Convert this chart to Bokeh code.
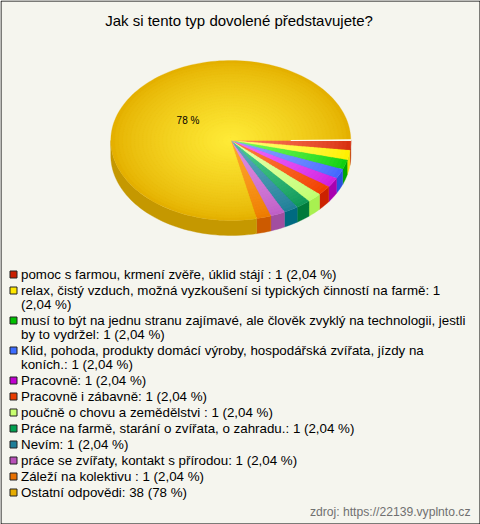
from bokeh.plotting import figure
from bokeh.models import Range1d
from bokeh.core.properties import value
from bokeh.embed import file_html
from bokeh.resources import INLINE
import math

title = "Jak si tento typ dovolené představujete?"
labels = [
    ["pomoc s farmou, krmení zvěře, úklid stájí : 1 (2,04 %)"],
    ["relax, čistý vzduch, možná vyzkoušení si typických činností na farmě: 1", "(2,04 %)"],
    ["musí to být na jednu stranu zajímavé, ale člověk zvyklý na technologii, jestli", "by to vydržel: 1 (2,04 %)"],
    ["Klid, pohoda, produkty domácí výroby, hospodářská zvířata, jízdy na", "koních.: 1 (2,04 %)"],
    ["Pracovně: 1 (2,04 %)"],
    ["Pracovně i zábavně: 1 (2,04 %)"],
    ["poučně o chovu a zemědělstvi : 1 (2,04 %)"],
    ["Práce na farmě, starání o zvířata, o zahradu.: 1 (2,04 %)"],
    ["Nevím: 1 (2,04 %)"],
    ["práce se zvířaty, kontakt s přírodou: 1 (2,04 %)"],
    ["Záleží na kolektivu : 1 (2,04 %)"],
    ["Ostatní odpovědi: 38 (78 %)"],
]
values = [1, 1, 1, 1, 1, 1, 1, 1, 1, 1, 1, 38]
swatch = ["#C81E00", "#FFE800", "#00C000", "#3C6CFF", "#C000D0", "#E83C00",
          "#C8FF70", "#00A050", "#1E7E98", "#B850B8", "#E87000", "#E6AC00"]
wall = ["#BE1E00", "#F0E000", "#00A800", "#2A50E0", "#A800B0", "#CC2200",
        "#A8F050", "#007A3A", "#006A80", "#A24EA0", "#CC5A00", "#C59800"]
inner = ["#FF8060", "#FFFF80", "#80FF60", "#90A8FF", "#F070FF", "#FF8040",
         "#E8FFB0", "#50D090", "#60A8C0", "#E090E0", "#FFA830", "#FFEC38"]
rim = ["#D83010", "#FFF000", "#10D010", "#4468FF", "#D020E0", "#F04000",
       "#C0FF70", "#109858", "#208098", "#C060C8", "#EE7C00", "#E4B000"]
source = "zdroj: https://22139.vyplnto.cz"
pct_label = "78 %"

BG = "#F5F5EE"
CX, CY, RX, RY, DEPTH = 230.3, 140, 120, 80, 15
SMALL_SWEEP = 7.05


def hex2(c):
    return tuple(int(c[i:i + 2], 16) for i in (1, 3, 5))


def mix(a, b, t):
    A, B = hex2(a), hex2(b)
    return "#%02X%02X%02X" % tuple(round(A[i] + (B[i] - A[i]) * t) for i in range(3))


# angular spans
spans, start = [], 0.0
for v in values[:-1]:
    spans.append((start, start + SMALL_SWEEP * v))
    start += SMALL_SWEEP * v
spans.append((start, 360.0))


def arc(a0, a1, r=1.0, dy=0.0):
    n = max(2, int((a1 - a0) / 2) + 2)
    pts = [a0 + (a1 - a0) * i / (n - 1) for i in range(n)]
    return ([CX + RX * r * math.cos(math.radians(a)) for a in pts],
            [CY + dy + RY * r * math.sin(math.radians(a)) for a in pts])


p = figure(width=480, height=524, output_backend="svg", toolbar_location=None,
           x_range=Range1d(0, 480), y_range=Range1d(524, 0), x_axis_type=None, y_axis_type=None,
           min_border=0, background_fill_color=BG, border_fill_color=BG,
           outline_line_color=None)
p.grid.visible = False

# side wall
for (a0, a1), c in zip(spans, wall):
    a1v = min(a1, 180.0)
    if a0 >= 180:
        continue
    x1, y1 = arc(a0, a1v)
    x2, y2 = arc(a0, a1v, dy=DEPTH)
    p.patch(x1 + x2[::-1], y1 + y2[::-1], fill_color=c, line_color=c, line_width=0.4)

# top face: radial shading built from nested sectors
RINGS = 30
for k in range(RINGS):
    r = 1 - k / RINGS
    for i, (a0, a1) in enumerate(spans):
        t = 1 - r
        col = mix(rim[i], inner[i], min(1, t ** 0.75))
        x, y = arc(a0, a1, r)
        p.patch([CX] + x, [CY] + y, fill_color=col, line_color=col, line_width=0.3)

# white gap along the start of the first slice
x, y = arc(359.4, 360.0)
p.patch([CX + 60] + x, [CY] + y, fill_color="white", line_color="white", line_width=0.8)

p.text([238.5], [20], text=[title], text_font=value("Liberation Sans"), text_font_size="15px",
       text_align="center", text_baseline="middle", text_color="#000000")
p.text([187.5], [120], text=[pct_label], text_font=value("Liberation Sans"), text_font_size="10px",
       text_align="center", text_baseline="middle", text_color="#000000")

y = 274
for lines, c in zip(labels, swatch):
    p.rect([13], [y], width=7, height=7, fill_color=c, line_color="#222222", line_width=1)
    for j, line in enumerate(lines):
        p.text([20.5], [y + 14 * j], text=[line], text_font=value("Liberation Sans"),
               text_font_size="13.33px", text_baseline="middle", text_color="#000000")
    y += 16 + 14 * (len(lines) - 1)

p.text([470], [511], text=[source], text_font=value("Liberation Sans"), text_font_size="12.15px",
       text_align="right", text_baseline="middle", text_color="#707070")

# frame
p.line([0.5, 0.5, 479.5, 479.5, 0.5], [0.5, 523.5, 523.5, 0.5, 0.5], line_color="#000000", line_width=1)

open("out.html", "w").write(file_html(p, INLINE))
